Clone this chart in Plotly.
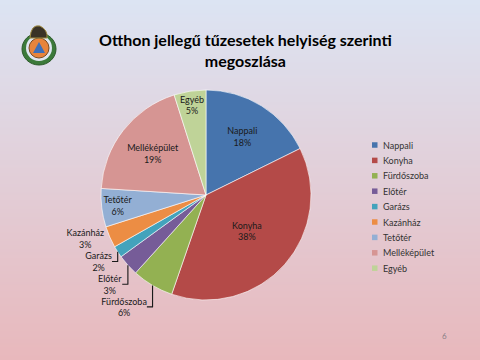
import base64, struct, zlib
import plotly.graph_objects as go

labels = ["Nappali", "Konyha", "Fürdőszoba", "Előtér", "Garázs", "Kazánház", "Tetőtér", "Melléképület", "Egyéb"]
values = [17.7, 37.6, 6.4, 3.3, 1.8, 3.3, 5.9, 19.1, 4.9]
colors = ["#4674AD", "#B44A48", "#93B152", "#765C98", "#43A3BC", "#EC8D44", "#93AFD4", "#D69593", "#BFD398"]
text_pos = ["inside", "inside", "outside", "outside", "outside", "outside", "inside", "inside", "inside"]
title_text = "<b>Otthon jellegű tűzesetek helyiség szerinti<br>megoszlása</b>"
page_no = "6"

W, H = 480, 360


def gradient_png(h, top, bottom):
    raw = b""
    for i in range(h):
        t = i / (h - 1)
        c = bytes(int(round(a + (b - a) * t)) for a, b in zip(top, bottom))
        raw += b"\x00" + c
    def chunk(tag, data):
        return struct.pack(">I", len(data)) + tag + data + struct.pack(">I", zlib.crc32(tag + data) & 0xffffffff)
    png = b"\x89PNG\r\n\x1a\n"
    png += chunk(b"IHDR", struct.pack(">IIBBBBB", 1, h, 8, 2, 0, 0, 0))
    png += chunk(b"IDAT", zlib.compress(raw))
    png += chunk(b"IEND", b"")
    return "data:image/png;base64," + base64.b64encode(png).decode()


bg = gradient_png(H, (220, 228, 243), (232, 184, 188))

cx, cy, r = 206, 195, 105
fig = go.Figure(go.Pie(
    labels=labels, values=values, sort=False, direction="clockwise", rotation=0,
    marker=dict(colors=colors, line=dict(color="white", width=0.6)),
    textposition=text_pos, texttemplate="%{label}<br>%{percent:.0%}",
    textfont=dict(family="Lato", size=9, color="#1a1a1a"),
    insidetextorientation="horizontal",
    domain=dict(x=[(cx - r) / W, (cx + r) / W], y=[1 - (cy + r) / H, 1 - (cy - r) / H]),
    hoverinfo="label+percent", showlegend=False,
))

def px(x): return x / W
def py(y): return 1 - y / H

shapes = []
annotations = [
    dict(text=title_text, x=px(246), y=py(50), xref="paper", yref="paper", xanchor="center", yanchor="middle",
         showarrow=False, align="center", font=dict(family="Lato", size=16, color="black")),
    dict(text=page_no, x=px(449), y=py(343), xref="paper", yref="paper",
         showarrow=False, font=dict(family="Lato", size=8, color="#8a7f86")),
]

# legend built from the label / colour lists
leg_x, leg_y0, leg_step, sq = 372, 145, 15.4, 5.5
for i, (lab, col) in enumerate(zip(labels, colors)):
    yc = leg_y0 + i * leg_step
    shapes.append(dict(type="rect", xref="paper", yref="paper",
                       x0=px(leg_x), x1=px(leg_x + sq), y0=py(yc + sq / 2), y1=py(yc - sq / 2),
                       fillcolor=col, line=dict(width=0)))
    annotations.append(dict(text=lab, x=px(leg_x + sq + 3), y=py(yc), xref="paper", yref="paper",
                            xanchor="left", yanchor="middle", showarrow=False,
                            font=dict(family="Lato", size=9, color="#333333")))

# emblem (logo) approximation
lx, ly = 39, 48
shapes.append(dict(type="circle", xref="paper", yref="paper", x0=px(lx - 17), x1=px(lx + 17), y0=py(ly + 17), y1=py(ly - 15),
                   fillcolor="#3c7a3a", line=dict(color="#2c5a2a", width=1)))
shapes.append(dict(type="circle", xref="paper", yref="paper", x0=px(lx - 13), x1=px(lx + 13), y0=py(ly + 13), y1=py(ly - 13),
                   fillcolor="#dfe6f1", line=dict(width=0)))
shapes.append(dict(type="circle", xref="paper", yref="paper", x0=px(lx - 10), x1=px(lx + 10), y0=py(ly + 10), y1=py(ly - 10),
                   fillcolor="#e8843c", line=dict(color="#7a4a20", width=1)))
shapes.append(dict(type="path", xref="paper", yref="paper",
                   path=f"M {px(lx-6)} {py(ly+5)} L {px(lx+6)} {py(ly+5)} L {px(lx)} {py(ly-6)} Z",
                   fillcolor="#3f6fb8", line=dict(width=0)))
shapes.append(dict(type="path", xref="paper", yref="paper",
                   path=f"M {px(lx-9)} {py(ly-10)} Q {px(lx-8)} {py(ly-24)} {px(lx+1)} {py(ly-22)} Q {px(lx+9)} {py(ly-18)} {px(lx+8)} {py(ly-10)} Z",
                   fillcolor="#3a3226", line=dict(color="#a08a40", width=1)))

fig.update_layout(
    width=W, height=H, margin=dict(l=0, r=0, t=0, b=0),
    paper_bgcolor="rgba(0,0,0,0)", plot_bgcolor="rgba(0,0,0,0)",
    uniformtext=dict(minsize=9, mode="show"),
    images=[dict(source=bg, xref="paper", yref="paper", x=0, y=1, sizex=1, sizey=1,
                 sizing="stretch", layer="below", xanchor="left", yanchor="top")],
    shapes=shapes, annotations=annotations,
)

fig.write_html("out.html", config={"displayModeBar": False},
               post_script="document.body.style.margin='0';document.body.style.overflow='hidden';")
